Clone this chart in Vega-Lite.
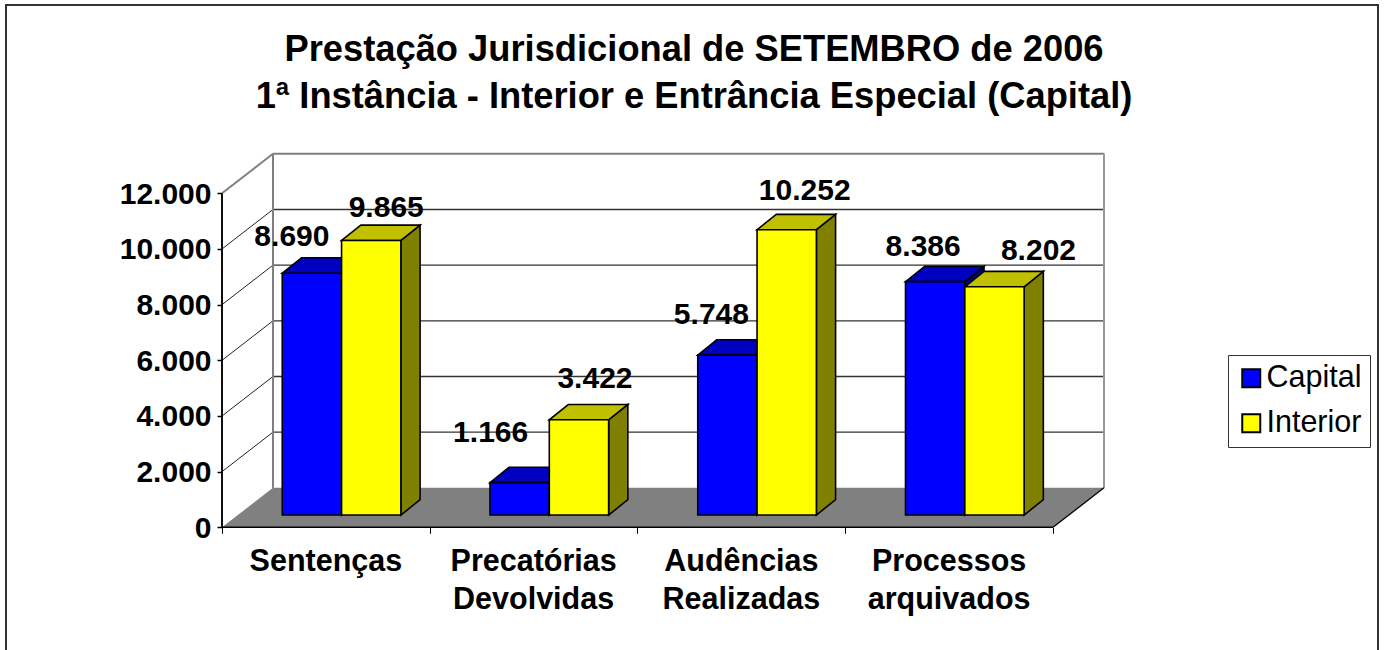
{
"$schema":"https://vega.github.io/schema/vega-lite/v6.json",
"width":1372,"height":660,
"autosize":{"type":"none"},
"padding":{"left":6,"top":5,"right":7,"bottom":0},
"background":"white",
"config":{"view":{"stroke":"#333333","strokeWidth":2},"font":"Liberation Sans"},
"title":{"text":["Prestação Jurisdicional de SETEMBRO de 2006","1ª Instância - Interior e Entrância Especial (Capital)"],"fontSize":36.3,"fontWeight":"bold","font":"Liberation Sans","color":"#000000","lineHeight":47,"anchor":"middle","frame":"group","dx":2,"dy":110,"offset":0},
"datasets":{
"bars":[
{"category":"Sentenças","series":"Capital","value":8690},
{"category":"Sentenças","series":"Interior","value":9865},
{"category":"Precatórias\nDevolvidas","series":"Capital","value":1166},
{"category":"Precatórias\nDevolvidas","series":"Interior","value":3422},
{"category":"Audências\nRealizadas","series":"Capital","value":5748},
{"category":"Audências\nRealizadas","series":"Interior","value":10252},
{"category":"Processos\narquivados","series":"Capital","value":8386},
{"category":"Processos\narquivados","series":"Interior","value":8202}],
"ticks":[{"tick":2000},{"tick":4000},{"tick":6000},{"tick":8000},{"tick":10000}],
"floor":[{"depth":0},{"depth":1}],
"walls":[{"tick":0},{"tick":12000}],
"categories":[{"position":0.5,"category":"Sentenças"},{"position":1.5,"category":"Precatórias\nDevolvidas"},{"position":2.5,"category":"Audências\nRealizadas"},{"position":3.5,"category":"Processos\narquivados"}]
},
"layer":[
{"data":{"name":"floor"},"transform":[{"calculate":"datum.depth*0.2455","as":"a"},{"calculate":"4+datum.depth*0.2455","as":"b"},{"calculate":"datum.depth*1419","as":"h"}],
 "mark":{"type":"area","orient":"horizontal","fill":"#808080"},
 "encoding":{"y":{"field":"h","type":"quantitative","scale":{"domain":[-4947,18766],"nice":false,"zero":false},"axis":{"values":[0,2000,4000,6000,8000,10000,12000],"orient":"left","offset":-216,"domain":false,"grid":false,"title":null,"tickColor":"#000000","tickSize":5,"tickWidth":1.5,"labelFont":"Liberation Sans","labelFontSize":30,"labelFontWeight":"bold","labelColor":"#000000","labelPadding":6,"labelOffset":1,"labelExpr":"replace(format(datum.value,','),',','.')"}},
 "x":{"field":"a","type":"quantitative","scale":{"domain":[-1.0397,5.5644],"nice":false,"zero":false},"axis":{"values":[0,1,2,3,4],"orient":"bottom","offset":-137.7,"domain":false,"grid":false,"title":null,"labels":false,"tickColor":"#000000","tickSize":6,"tickWidth":1}},
 "x2":{"field":"b"}}},
{"data":{"name":"ticks"},"transform":[{"calculate":"datum.tick+1419","as":"t"},{"calculate":"0.2455","as":"a"},{"calculate":"4.2455","as":"b"}],
 "mark":{"type":"rule","stroke":"#333333","strokeWidth":1.3},
 "encoding":{"x":{"field":"a","type":"quantitative"},"x2":{"field":"b"},"y":{"field":"t","type":"quantitative"}}},
{"data":{"name":"ticks"},"transform":[{"calculate":"datum.tick+1419","as":"t"},{"calculate":"0","as":"a"},{"calculate":"0.2455","as":"b"}],
 "mark":{"type":"rule","stroke":"#222222","strokeWidth":1},
 "encoding":{"x":{"field":"a","type":"quantitative"},"x2":{"field":"b"},"y":{"field":"tick","type":"quantitative"},"y2":{"field":"t"}}},
{"data":{"name":"walls"},"transform":[{"filter":"datum.tick==12000"},{"calculate":"datum.tick+1419","as":"t"},{"calculate":"0","as":"a"},{"calculate":"0.2455","as":"b"},{"calculate":"4.2455","as":"c"}],
 "layer":[
 {"mark":{"type":"rule","stroke":"#808080","strokeWidth":2},"encoding":{"x":{"field":"a","type":"quantitative"},"x2":{"field":"b"},"y":{"field":"tick","type":"quantitative"},"y2":{"field":"t"}}},
 {"mark":{"type":"rule","stroke":"#808080","strokeWidth":2},"encoding":{"x":{"field":"b","type":"quantitative"},"x2":{"field":"c"},"y":{"field":"t","type":"quantitative"}}}
 ]},
{"data":{"name":"floor"},"transform":[{"calculate":"0.2455","as":"a"},{"calculate":"4.2455","as":"b"},{"calculate":"1419","as":"lo"},{"calculate":"13419","as":"hi"}],
 "layer":[
 {"mark":{"type":"rule","stroke":"#808080","strokeWidth":2},"encoding":{"x":{"field":"a","type":"quantitative"},"y":{"field":"lo","type":"quantitative"},"y2":{"field":"hi"}}},
 {"mark":{"type":"rule","stroke":"#999999","strokeWidth":2},"encoding":{"x":{"field":"b","type":"quantitative"},"y":{"field":"lo","type":"quantitative"},"y2":{"field":"hi"}}}
 ]},
{"data":{"name":"walls"},"transform":[{"calculate":"0","as":"a"},{"calculate":"4","as":"b"},{"calculate":"0","as":"lo"},{"calculate":"12000","as":"hi"}],
 "layer":[
 {"mark":{"type":"rule","stroke":"#000000","strokeWidth":1.5},"encoding":{"x":{"field":"a","type":"quantitative"},"y":{"field":"lo","type":"quantitative"},"y2":{"field":"hi"}}},
 {"transform":[{"filter":"datum.tick==0"}],"mark":{"type":"rule","stroke":"#000000","strokeWidth":1.5},"encoding":{"x":{"field":"a","type":"quantitative"},"x2":{"field":"b"},"y":{"field":"lo","type":"quantitative"}}},
 {"transform":[{"filter":"datum.tick==0"},{"calculate":"4.2455","as":"c"},{"calculate":"1419","as":"t"}],"mark":{"type":"rule","stroke":"#000000","strokeWidth":1.3},"encoding":{"x":{"field":"b","type":"quantitative"},"x2":{"field":"c"},"y":{"field":"lo","type":"quantitative"},"y2":{"field":"t"}}}
 ]},
{"data":{"name":"bars"},
 "transform":[
 {"calculate":"indexof(['Sentenças','Precatórias\\nDevolvidas','Audências\\nRealizadas','Processos\\narquivados'],datum.category)","as":"i"},
 {"calculate":"datum.series==='Capital'?0:1","as":"s"},
 {"calculate":"datum.i+0.211+datum.s*0.2855+0.079","as":"xl"},
 {"calculate":"datum.xl+0.2855","as":"xr"},
 {"calculate":"datum.value+440","as":"ytop"},
 {"calculate":"440","as":"ybase"},
 {"calculate":"[0,1]","as":"pts"},
 {"flatten":["pts"]},
 {"calculate":"datum.i*2+datum.s","as":"key"},
 {"calculate":"datum.pts*0.0925","as":"ox"},
 {"calculate":"datum.pts*553","as":"oy"},
 {"calculate":"datum.xr+datum.ox","as":"sx"},
 {"calculate":"datum.ytop+datum.oy","as":"sy"},
 {"calculate":"datum.ybase+datum.oy","as":"sy2"},
 {"calculate":"datum.xl+datum.ox","as":"tx"},
 {"calculate":"datum.xr+datum.ox","as":"tx2"}
 ],
 "layer":[
 {"mark":{"type":"area","stroke":"#000000","strokeWidth":1.6,"orient":"vertical"},
  "encoding":{"x":{"field":"sx","type":"quantitative"},"y":{"field":"sy","type":"quantitative"},"y2":{"field":"sy2"},"detail":{"field":"key"},"fill":{"condition":{"test":"datum.series==='Capital'","value":"#000080"},"value":"#808000"}}},
 {"mark":{"type":"area","stroke":"#000000","strokeWidth":1.6,"orient":"horizontal"},
  "encoding":{"y":{"field":"sy","type":"quantitative"},"x":{"field":"tx","type":"quantitative"},"x2":{"field":"tx2"},"detail":{"field":"key"},"fill":{"condition":{"test":"datum.series==='Capital'","value":"#0000c0"},"value":"#c0c000"}}},
 {"transform":[{"filter":"datum.pts==0"}],"mark":{"type":"rect","stroke":"#000000","strokeWidth":1.6},
  "encoding":{"x":{"field":"xl","type":"quantitative"},"x2":{"field":"xr"},"y":{"field":"ytop","type":"quantitative"},"y2":{"field":"ybase"},
  "color":{"field":"series","type":"nominal","scale":{"domain":["Capital","Interior"],"range":["#0000ff","#ffff00"]},
   "legend":{"orient":"none","legendX":1222,"legendY":350,"title":null,"symbolType":"square","symbolSize":324,"symbolStrokeColor":"#000000","symbolStrokeWidth":2,"labelFont":"Liberation Sans","labelFontSize":30.5,"labelColor":"#000000","labelOffset":0,"rowPadding":14,"strokeColor":"#333333","fillColor":"#ffffff","padding":8,"symbolOpacity":1}}}},
 {"transform":[{"filter":"datum.pts==0"},
  {"calculate":"datum.xl+0.14275+[-20,15,-29,16,-16,18,-12,44][datum.key]/207.75","as":"lx"},
  {"calculate":"datum.ytop+[36,32,50,41,40,39,35,36][datum.key]*35.93","as":"ly"},
  {"calculate":"replace(format(datum.value,','),',','.')","as":"label"}],
  "mark":{"type":"text","font":"Liberation Sans","fontSize":30,"fontWeight":"bold","color":"#000000","baseline":"middle","align":"center"},
  "encoding":{"x":{"field":"lx","type":"quantitative"},"y":{"field":"ly","type":"quantitative"},"text":{"field":"label"}}}
 ]},
{"data":{"name":"categories"},"mark":{"type":"text","font":"Liberation Sans","fontSize":30.5,"fontWeight":"bold","color":"#000000","baseline":"top","align":"center","lineBreak":"\n","lineHeight":38},
 "encoding":{"x":{"field":"position","type":"quantitative"},"y":{"datum":-690,"type":"quantitative"},"text":{"field":"category"}}}
]
}
